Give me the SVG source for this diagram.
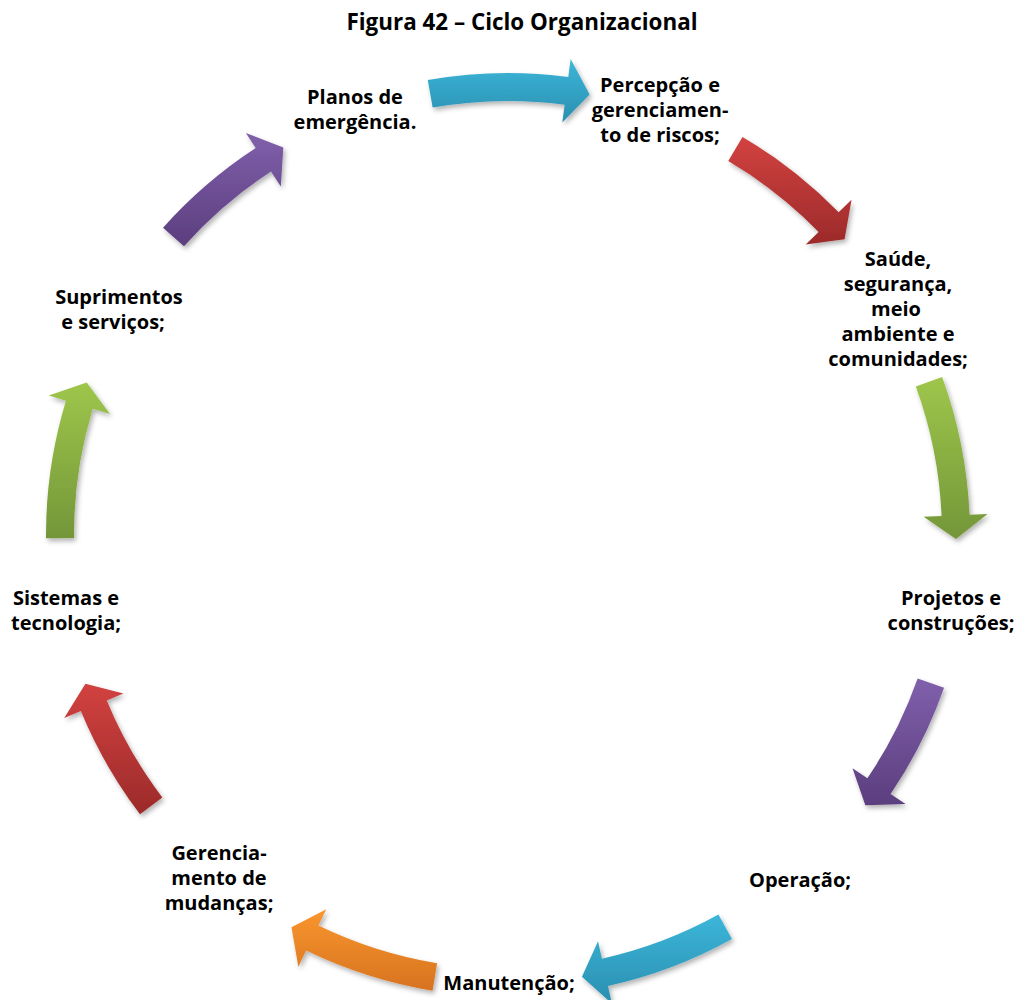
<svg xmlns="http://www.w3.org/2000/svg" width="1020" height="1000" viewBox="0 0 1020 1000">
<defs>
<linearGradient id="gBlue" x1="0" y1="0" x2="0" y2="1"><stop offset="0" stop-color="#3cb6d9"/><stop offset="1" stop-color="#2a8fb0"/></linearGradient>
<linearGradient id="gRed" x1="0" y1="0" x2="0" y2="1"><stop offset="0" stop-color="#d24240"/><stop offset="1" stop-color="#9c2a2a"/></linearGradient>
<linearGradient id="gGreen" x1="0" y1="0" x2="0" y2="1"><stop offset="0" stop-color="#9ec64b"/><stop offset="1" stop-color="#749639"/></linearGradient>
<linearGradient id="gPurple" x1="0" y1="0" x2="0" y2="1"><stop offset="0" stop-color="#8060ab"/><stop offset="1" stop-color="#5b3e7e"/></linearGradient>
<linearGradient id="gOrange" x1="0" y1="0" x2="0" y2="1"><stop offset="0" stop-color="#f9962f"/><stop offset="1" stop-color="#d7731f"/></linearGradient>
<filter id="sh" x="-20%" y="-20%" width="140%" height="140%"><feDropShadow dx="2" dy="3" stdDeviation="2.5" flood-color="#000" flood-opacity="0.3"/></filter>
</defs>
<style>
text{font-family:"Open Sans","Liberation Sans",sans-serif;font-weight:bold;font-size:20px;fill:#000;text-anchor:middle}
.title{font-size:22.4px}
.arrow{filter:url(#sh)}
</style>
<rect width="1020" height="1000" fill="#fff"/>
<text class="title" x="522" y="30">Figura 42 – Ciclo Organizacional</text>
<g id="connectors">
<path class="arrow" fill="url(#gBlue)" d="M427.77,80.02 A462,462 0 0 1 568.30,76.95 L570.65,59.11 L589.64,94.50 L562.30,122.56 L564.65,104.71 A434,434 0 0 0 432.64,107.59 Z"/>
<path class="arrow" fill="url(#gRed)" d="M742.48,136.93 A462,462 0 0 1 838.65,212.33 L851.53,199.76 L844.57,239.36 L805.73,244.46 L818.61,231.89 A434,434 0 0 0 728.27,161.05 Z"/>
<path class="arrow" fill="url(#gGreen)" d="M942.14,376.99 A462,462 0 0 1 969.56,514.85 L987.54,514.06 L955.98,538.91 L923.60,516.85 L941.59,516.07 A434,434 0 0 0 915.83,386.56 Z"/>
<path class="arrow" fill="url(#gPurple)" d="M944.04,687.70 A462,462 0 0 1 890.59,794.02 L905.49,804.11 L865.32,805.24 L852.49,768.23 L867.40,778.32 A434,434 0 0 0 917.61,678.44 Z"/>
<path class="arrow" fill="url(#gBlue)" d="M731.98,939.07 A462,462 0 0 1 608.00,986.05 L611.89,1003.62 L581.94,976.86 L598.04,941.14 L601.94,958.71 A434,434 0 0 0 718.41,914.58 Z"/>
<path class="arrow" fill="url(#gOrange)" d="M432.54,990.80 A462,462 0 0 1 306.20,950.60 L298.34,966.79 L291.49,927.21 L326.29,909.22 L318.43,925.41 A434,434 0 0 0 437.12,963.17 Z"/>
<path class="arrow" fill="url(#gRed)" d="M140.00,814.32 A462,462 0 0 1 80.86,711.05 L64.22,717.91 L85.44,683.81 L123.39,693.53 L106.75,700.38 A434,434 0 0 0 162.31,797.40 Z"/>
<path class="arrow" fill="url(#gGreen)" d="M46.01,538.23 A462,462 0 0 1 65.95,400.70 L48.73,395.46 L86.75,382.51 L109.97,414.07 L92.74,408.84 A434,434 0 0 0 74.01,538.03 Z"/>
<path class="arrow" fill="url(#gPurple)" d="M163.05,227.66 A462,462 0 0 1 255.70,147.97 L245.87,132.89 L283.32,147.41 L280.82,186.51 L270.99,171.43 A434,434 0 0 0 183.96,246.29 Z"/>
</g>
<g id="n1"><text x="355" y="104">Planos de</text><text x="355" y="129">emergência.</text></g>
<g id="n2"><text x="660" y="92">Percepção e</text><text x="660" y="117">gerenciamen-</text><text x="660" y="142">to de riscos;</text></g>
<g id="n3"><text x="898" y="266">Saúde,</text><text x="898" y="291">segurança,</text><text x="896" y="316">meio</text><text x="898" y="341">ambiente e</text><text x="898" y="366">comunidades;</text></g>
<g id="n4"><text x="951" y="605">Projetos e</text><text x="951" y="630">construções;</text></g>
<g id="n5"><text x="800" y="887">Operação;</text></g>
<g id="n6"><text x="509" y="990">Manutenção;</text></g>
<g id="n7"><text x="219" y="860">Gerencia-</text><text x="219" y="885">mento de</text><text x="219" y="910">mudanças;</text></g>
<g id="n8"><text x="66" y="605">Sistemas e</text><text x="66" y="630">tecnologia;</text></g>
<g id="n9"><text x="119" y="304">Suprimentos</text><text x="113" y="329">e serviços;</text></g>
</svg>
